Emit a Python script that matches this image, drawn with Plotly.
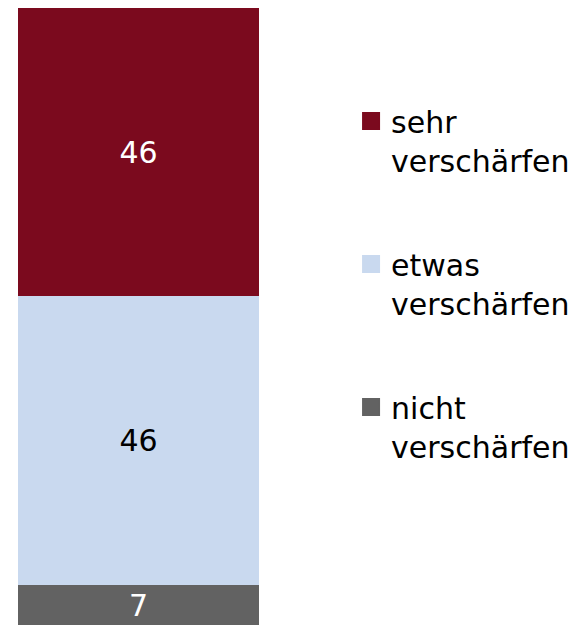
import plotly.graph_objects as go

categories = ["Gesamt"]
series_names = ["nicht<br>verschärfen", "etwas<br>verschärfen", "sehr<br>verschärfen"]
series_values = [[7], [46], [46]]
series_colors = ["#626262", "#C9D9EF", "#7B0A1E"]
label_colors = ["white", "black", "white"]
label_anchor = ["end", "middle", "middle"]

FONT = "DejaVu Sans"

fig = go.Figure()
for name, vals, col, lc, anc in zip(series_names, series_values, series_colors, label_colors, label_anchor):
    fig.add_trace(go.Bar(
        x=categories, y=vals, name=name, marker=dict(color=col, line=dict(width=0)),
        text=[str(v) for v in vals], textposition="inside", insidetextanchor=anc,
        textfont=dict(family=FONT, size=30, color=lc),
        showlegend=False, width=1, hoverinfo="name+y",
    ))

# legend entries (top to bottom)
for i, (name, col) in enumerate(reversed(list(zip(series_names, series_colors)))):
    fig.add_trace(go.Scatter(
        x=[None], y=[None], mode="markers", name=name,
        marker=dict(symbol="square", size=16, color=col, line=dict(width=2, color=col)),
        legendgroup=f"g{i}", showlegend=True,
    ))

fig.update_layout(
    width=576, height=617,
    barmode="stack",
    bargap=0,
    margin=dict(l=10, r=325, t=0, b=0),
    plot_bgcolor="white", paper_bgcolor="white",
    xaxis=dict(visible=False, range=[-0.5, 0.5]),
    yaxis=dict(visible=False, range=[0.6, 99]),
    legend=dict(
        x=1.382, xanchor="left", y=0.859, yanchor="top",
        font=dict(family=FONT, size=30, color="black"),
        traceorder="grouped", tracegroupgap=62, valign="top",
        itemsizing="trace", bgcolor="rgba(0,0,0,0)",
    ),
    showlegend=True,
)

fig.write_html("out.html")
